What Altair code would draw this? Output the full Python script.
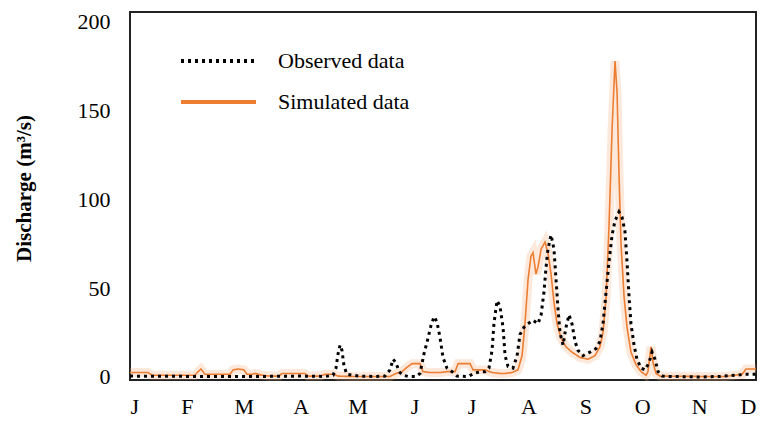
import altair as alt
import pandas as pd

# ---- data (day of year, discharge m3/s) ----
obs_day = [0, 41, 76, 99, 114, 118.4, 120.1, 121.3, 122.5, 123.6, 124.8, 126.5, 129.4, 134.1,
           142.9, 148.7, 151.6, 153.4, 155.1, 156.9, 159.2, 162.1, 166.8, 169.1, 171.4, 173.8,
           175.5, 177.3, 179.0, 180.8, 182.5, 184.8, 187.8, 190.7, 197.1, 200.6, 204.1, 207.0,
           209.3, 211.1, 212.2, 214.0, 215.7, 217.5, 218.7, 220.4, 223.3, 225.7, 227.4, 229.7,
           232.1, 235.0, 237.9, 239.7, 241.4, 242.6, 243.7, 245.5, 247.2, 248.4, 249.6, 250.7,
           252.5, 254.2, 256.0, 257.7, 259.5, 261.2, 264.1, 268.2, 271.7, 274.0, 275.8, 277.6,
           279.3, 281.1, 282.8, 285.1, 286.9, 288.6, 289.8, 291.0, 292.1, 293.9, 295.6, 298.0,
           300.3, 302.6, 304.4, 306.1, 307.9, 310.2, 314.9, 332.4, 344.0, 352.8, 358.6, 365]
obs_val = [0.5, 0.3, 0.3, 0.5, 0.3, 1, 5, 13, 18, 15, 6, 1.5, 1, 0.5,
           0.3, 0.5, 4, 10, 8, 3, 1, 0.3, 0.3, 2, 13, 22,
           29, 34, 31, 22, 11, 5, 3, 0.5, 0.3, 2, 3, 3,
           5, 15, 30, 43, 40, 28, 12, 6, 5, 12, 24, 28,
           30, 32, 30, 35, 48, 62, 72, 80, 72, 55, 38, 25,
           18, 28, 35, 30, 20, 15, 12, 14, 16, 20, 30, 48,
           65, 80, 88, 93, 90, 82, 65, 45, 30, 18, 10, 5,
           4, 8, 14, 10, 3, 0.5, 0.3, 0, 0.3, 1, 1.5, 1.5]

sim_day = [0, 10.5, 12.8, 37.9, 39.7, 41.4, 43.7, 58.3, 60.1, 63.0, 66.5, 68.2, 71.1, 72.9,
           77.0, 81.6, 86.9, 88.6, 102.0, 103.8, 110.8, 113.7, 119.0, 121.3, 128.3, 151.6,
           155.1, 158.6, 160.9, 164.4, 169.1, 170.8, 174.9, 180.8, 184.8, 189.5, 191.3, 198.3,
           200.0, 207.0, 211.1, 215.7, 218.7, 222.7, 226.2, 228.6, 230.3, 232.1, 233.8, 235.0,
           236.7, 237.9, 239.7, 242.0, 243.7, 245.5, 247.2, 249.0, 251.3, 254.2, 257.7, 262.4,
           267.1, 271.1, 274.0, 275.8, 277.6, 279.3, 281.1, 282.8, 284.0, 285.1, 286.3, 288.1,
           289.8, 292.1, 295.0, 298.0, 300.9, 302.0, 303.8, 305.0, 306.7, 309.0, 332.4, 347.0,
           352.8, 356.9, 359.2, 365]
sim_val = [2.5, 2.5, 1, 1, 3, 4.5, 1.5, 1.5, 4, 4.5, 4, 1.5, 1.5, 2,
           1, 0.5, 0.5, 2, 2, 0.5, 0.5, 1.5, 1.5, 0.5, 0.3, 0.3,
           2, 3, 5, 7.5, 7.5, 3, 2.5, 2.5, 3, 3, 7.5, 7.5,
           4, 4, 2.5, 2, 2, 2.5, 4, 12, 30, 55, 68, 70,
           58, 62, 72, 76, 70, 58, 42, 30, 22, 17, 14, 11,
           10, 12, 17, 25, 45, 85, 140, 178, 160, 115, 75, 45,
           28, 14, 7, 3, 1, 3, 17, 8, 2, 0.5, 0.3, 0.3,
           1, 1.5, 4.5, 4.5]

month_labels = ["J", "F", "M", "A", "M", "J", "J", "A", "S", "O", "N", "D"]
y_ticks = [0, 50, 100, 150, 200]
series_names = ["Observed data", "Simulated data"]

obs = pd.DataFrame({"day": obs_day, "q": obs_val, "series": series_names[0]})
sim = pd.DataFrame({"day": sim_day, "q": sim_val, "series": series_names[1]})

tick_pos = [365 * i / 11 for i in range(12)]
label_expr = "[" + ",".join(f"'{m}'" for m in month_labels) + "][round(datum.value*11/365)]"

FONT = "'Liberation Serif', 'Times New Roman', 'DejaVu Serif', serif"
ORANGE = "#ED7D31"

x_enc = alt.X("day:Q", scale=alt.Scale(domain=[0, 365], nice=False, zero=False),
              axis=alt.Axis(values=tick_pos, labelExpr=label_expr, title=None,
                            labelFontSize=22, labelFont=FONT, labelPadding=16,
                            labelColor="black", domain=False, ticks=False, grid=False))
y_enc = alt.Y("q:Q", scale=alt.Scale(domain=[-1.7, 205.6], nice=False, zero=False),
              axis=alt.Axis(values=y_ticks, title="Discharge (m³/s)", titleFont=FONT,
                            titleFontSize=21, titleFontWeight="bold", titleColor="black",
                            titleX=-96, titleY=176,
                            labelFontSize=22, labelFont=FONT, labelPadding=20,
                            labelColor="black", domain=False, ticks=False, grid=False))

color_scale = alt.Scale(domain=series_names, range=["black", ORANGE])
dash_scale = alt.Scale(domain=series_names, range=[[3, 4], [1, 0]])
legend = alt.Legend(title=None, orient="none", legendX=49, legendY=39,
                    symbolType="stroke", symbolSize=5625, symbolStrokeWidth=4,
                    labelFont=FONT, labelFontSize=22, labelColor="black",
                    labelOffset=20, clipHeight=20, rowPadding=19, padding=0)

glow = alt.Chart(sim).mark_line(color="#F4B183", strokeWidth=9, opacity=0.28).encode(
    x=x_enc, y=y_enc)
sim_line = alt.Chart(sim).mark_line(strokeWidth=1.6).encode(
    x=x_enc, y=y_enc,
    color=alt.Color("series:N", scale=color_scale, legend=legend),
    strokeDash=alt.StrokeDash("series:N", scale=dash_scale, legend=legend))
obs_line = alt.Chart(obs).mark_line(strokeWidth=3).encode(
    x=x_enc, y=y_enc,
    color=alt.Color("series:N", scale=color_scale, legend=legend),
    strokeDash=alt.StrokeDash("series:N", scale=dash_scale, legend=legend))

chart = alt.layer(glow, sim_line, obs_line).properties(
    width=626, height=368,
    autosize=alt.AutoSizeParams(type="none"),
    padding={"left": 130, "top": 12, "right": 5, "bottom": 41},
    background="white",
).configure_view(stroke="#222", strokeWidth=2)

chart.save("out.html", embed_options={"renderer": "svg", "actions": False})
